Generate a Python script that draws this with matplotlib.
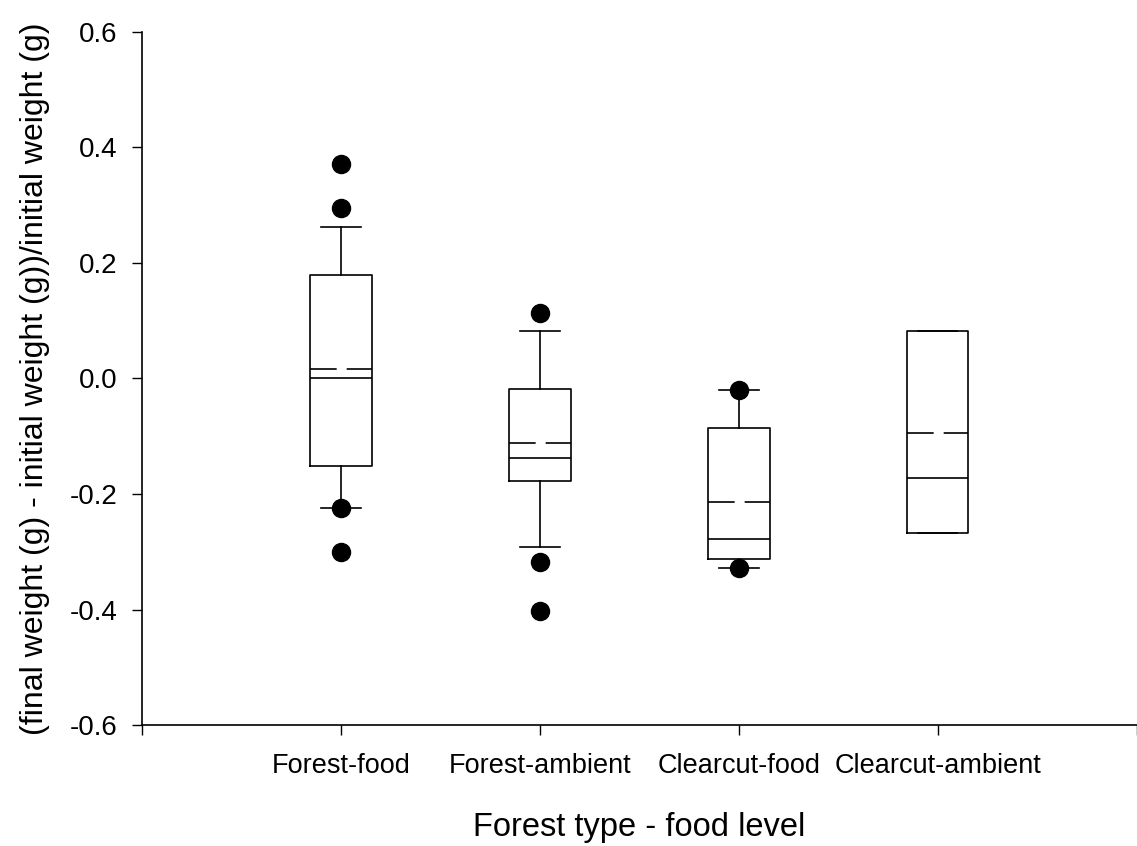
import matplotlib
matplotlib.use("Agg")
import matplotlib.pyplot as plt

plt.rcParams['font.family'] = ['Liberation Sans', 'DejaVu Sans']
plt.rcParams['axes.unicode_minus'] = False

categories = ["Forest-food", "Forest-ambient", "Clearcut-food", "Clearcut-ambient"]
q1 = [-0.152, -0.177, -0.312, -0.267]
median = [0.000, -0.137, -0.278, -0.173]
q3 = [0.180, -0.019, -0.086, 0.082]
mean = [0.0156, -0.1125, -0.214, -0.094]
whisker_low = [-0.224, -0.291, -0.329, -0.267]
whisker_high = [0.263, 0.082, -0.020, 0.082]
outliers = [
    [0.372, 0.296, -0.224, -0.300],
    [0.114, -0.318, -0.403],
    [-0.020, -0.329],
    [],
]
y_ticks = [-0.6, -0.4, -0.2, 0.0, 0.2, 0.4, 0.6]

stats = []
for i, name in enumerate(categories):
    stats.append(dict(label=name, med=median[i], q1=q1[i], q3=q3[i],
                      whislo=whisker_low[i], whishi=whisker_high[i],
                      mean=mean[i], fliers=outliers[i]))

W, H = 1137, 846
fig = plt.figure(figsize=(W/100, H/100), dpi=100)
left, right, top, bottom = 142, 1136.5, 32, 725
ax = fig.add_axes([left/W, (H-bottom)/H, (right-left)/W, (bottom-top)/H])

positions = [1, 2, 3, 4]
ax.bxp(stats, positions=positions, widths=0.31, capwidths=0.2,
       showmeans=True, meanline=True, patch_artist=False,
       boxprops=dict(color='black', linewidth=1.2),
       whiskerprops=dict(color='black', linewidth=1.2),
       capprops=dict(color='black', linewidth=1.2),
       medianprops=dict(color='black', linewidth=1.2),
       meanprops=dict(color='black', linewidth=1.2, linestyle=(0, (16, 6))),
       flierprops=dict(marker='o', markerfacecolor='black', markeredgecolor='black',
                       markersize=13, linestyle='none'))

ax.set_xlim(0, 5)
ax.set_ylim(-0.6, 0.6)
ax.set_xticks([0, 1, 2, 3, 4, 5])
ax.set_xticklabels([''] + categories + [''], fontsize=19.5)
ax.set_yticks(y_ticks)
ax.set_yticklabels([f"{v:.1f}" for v in y_ticks], fontsize=20)
ax.tick_params(axis='both', direction='out', length=7.2, width=1, color='black')
ax.tick_params(axis='y', pad=10.5)
ax.tick_params(axis='x', pad=13)
for s in ['top', 'right']:
    ax.spines[s].set_visible(False)
for s in ['left', 'bottom']:
    ax.spines[s].set_linewidth(1.2)

ax.set_xlabel("Forest type - food level", fontsize=23.5, labelpad=24)
ax.set_ylabel("(final weight (g) - initial weight (g))/initial weight (g)", fontsize=23, labelpad=14)

fig.savefig("out.png", dpi=100)
